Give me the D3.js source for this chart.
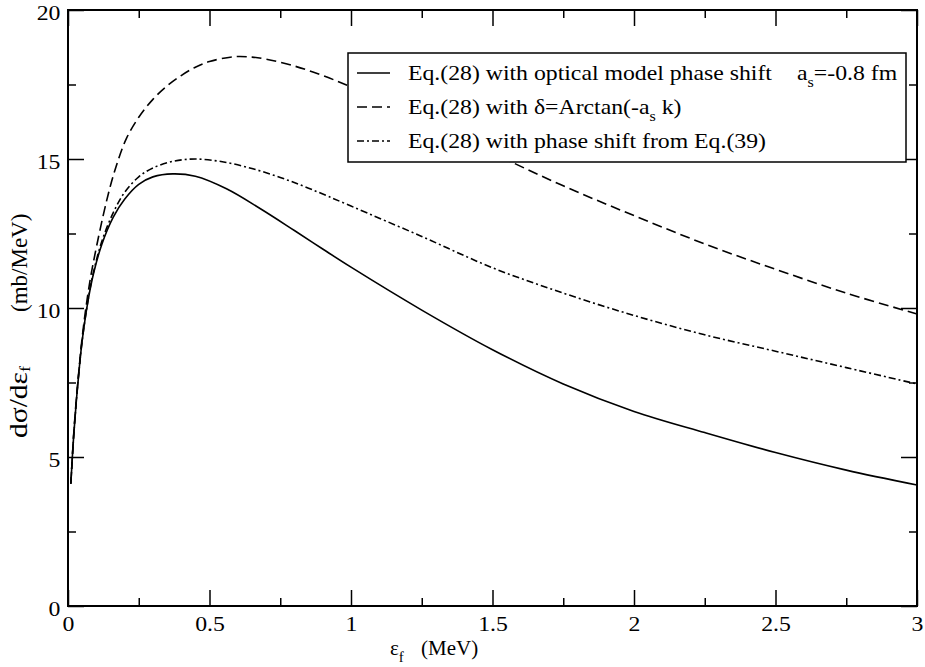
<!DOCTYPE html>
<html>
<head>
<meta charset="utf-8">
<script src="https://cdn.jsdelivr.net/npm/d3@7"></script>
<style>
  body { margin: 0; background: #fff; }
  svg { font-family: "Liberation Serif", "DejaVu Serif", serif; }
  .axis path { display: none; }
  .axis line { stroke: #000; stroke-width: 1.5; }
  .axis text { font-size: 22px; fill: #000; font-family: "Liberation Serif", serif; }
</style>
</head>
<body>
<svg width="925" height="667"></svg>
<script>
// energies (MeV) and cross sections (mb/MeV)
var opticalX = [0.01, 0.02, 0.03, 0.04, 0.05, 0.07, 0.09, 0.12, 0.16, 0.2, 0.25, 0.3, 0.37, 0.45, 0.56, 0.68, 0.8, 0.9, 1.0, 1.25, 1.5, 1.75, 2.0, 2.25, 2.5, 2.75, 3.0];
var opticalY = [4.1, 5.7, 6.95, 8.0, 8.9, 10.2, 11.15, 12.15, 13.05, 13.65, 14.15, 14.4, 14.5, 14.42, 14.0, 13.33, 12.6, 11.98, 11.37, 9.93, 8.6, 7.45, 6.53, 5.82, 5.15, 4.56, 4.06];

var arctanX = [0.01, 0.02, 0.03, 0.04, 0.05, 0.07, 0.09, 0.137, 0.17, 0.207, 0.25, 0.3, 0.35, 0.4, 0.45, 0.5, 0.584, 0.65, 0.7, 0.8, 0.9, 1.0, 1.25, 1.5, 1.75, 2.0, 2.25, 2.5, 2.75, 3.0];
var arctanY = [4.1, 5.75, 7.0, 8.05, 9.0, 10.45, 11.55, 13.62, 14.75, 15.7, 16.4, 17.0, 17.45, 17.8, 18.08, 18.27, 18.43, 18.42, 18.35, 18.12, 17.8, 17.42, 16.35, 15.2, 14.1, 13.1, 12.15, 11.3, 10.5, 9.8];

var eq39X = [0.01, 0.02, 0.03, 0.04, 0.05, 0.07, 0.09, 0.12, 0.16, 0.2, 0.25, 0.3, 0.37, 0.45, 0.55, 0.65, 0.75, 0.85, 1.0, 1.25, 1.5, 1.75, 2.0, 2.25, 2.5, 2.75, 3.0];
var eq39Y = [4.1, 5.7, 6.95, 8.0, 8.9, 10.22, 11.2, 12.25, 13.2, 13.88, 14.4, 14.7, 14.92, 15.0, 14.9, 14.68, 14.38, 14.02, 13.42, 12.4, 11.35, 10.5, 9.75, 9.1, 8.55, 8.0, 7.45];

var xMajor = [0, 0.5, 1, 1.5, 2, 2.5, 3];
var xMinor = [0.25, 0.75, 1.25, 1.75, 2.25, 2.75];
var yMajor = [0, 5, 10, 15, 20];
var yMinor = [2.5, 7.5, 12.5, 17.5];

(function () {
  var svg = d3.select("svg");
  var x0 = 68, x1 = 917, y0 = 10, y1 = 606;
  var stretch = "scale(1.08,1)";

  var x = d3.scaleLinear().domain([0, 3]).range([x0, x1]);
  var y = d3.scaleLinear().domain([0, 20]).range([y1, y0]);

  function fmt(d) { return d3.format("")(d); }

  // ticks on all four sides, pointing inwards
  svg.append("g").attr("class", "axis").attr("transform", "translate(0," + y1 + ")")
    .call(d3.axisBottom(x).tickValues(xMajor).tickSize(-16).tickPadding(9).tickFormat(fmt))
    .selectAll("text").attr("transform", stretch);
  svg.append("g").attr("class", "axis").attr("transform", "translate(0," + y1 + ")")
    .call(d3.axisBottom(x).tickValues(xMinor).tickSize(-8).tickFormat(""));
  svg.append("g").attr("class", "axis").attr("transform", "translate(0," + y0 + ")")
    .call(d3.axisTop(x).tickValues(xMajor).tickSize(-16).tickFormat(""));
  svg.append("g").attr("class", "axis").attr("transform", "translate(0," + y0 + ")")
    .call(d3.axisTop(x).tickValues(xMinor).tickSize(-8).tickFormat(""));

  svg.append("g").attr("class", "axis").attr("transform", "translate(" + x0 + ",0)")
    .call(d3.axisLeft(y).tickValues(yMajor).tickSize(-16).tickPadding(7).tickFormat(fmt))
    .selectAll("text").attr("transform", stretch).attr("dy", "0.42em");
  svg.append("g").attr("class", "axis").attr("transform", "translate(" + x0 + ",0)")
    .call(d3.axisLeft(y).tickValues(yMinor).tickSize(-8).tickFormat(""));
  svg.append("g").attr("class", "axis").attr("transform", "translate(" + x1 + ",0)")
    .call(d3.axisRight(y).tickValues(yMajor).tickSize(-16).tickFormat(""));
  svg.append("g").attr("class", "axis").attr("transform", "translate(" + x1 + ",0)")
    .call(d3.axisRight(y).tickValues(yMinor).tickSize(-8).tickFormat(""));

  svg.append("rect")
    .attr("x", x0).attr("y", y0)
    .attr("width", x1 - x0).attr("height", y1 - y0)
    .attr("fill", "none").attr("stroke", "#000").attr("stroke-width", 2);

  var series = [
    { xs: opticalX, ys: opticalY, dash: null },
    { xs: arctanX, ys: arctanY, dash: "10,5" },
    { xs: eq39X, ys: eq39Y, dash: "7,3,2,3" }
  ];

  var line = d3.line()
    .x(function (d) { return x(d[0]); })
    .y(function (d) { return y(d[1]); })
    .curve(d3.curveCatmullRom.alpha(0.5));

  series.forEach(function (s) {
    svg.append("path")
      .datum(d3.zip(s.xs, s.ys))
      .attr("d", line)
      .attr("fill", "none")
      .attr("stroke", "#000")
      .attr("stroke-width", 1.6)
      .attr("stroke-dasharray", s.dash);
  });

  // legend
  var legend = svg.append("g");
  legend.append("rect")
    .attr("x", 348).attr("y", 53).attr("width", 558).attr("height", 109)
    .attr("fill", "#fff").attr("stroke", "#000").attr("stroke-width", 1.5);

  var rowY = [73, 107, 141];
  series.forEach(function (s, i) {
    legend.append("line")
      .attr("x1", 357).attr("x2", 390)
      .attr("y1", rowY[i]).attr("y2", rowY[i])
      .attr("stroke", "#000").attr("stroke-width", 1.6)
      .attr("stroke-dasharray", s.dash);
  });

  // text placed through a translated, slightly widened group
  function label(parent, tx, ty, size, rot, sc) {
    return parent.append("g")
      .attr("transform", "translate(" + tx + "," + ty + ")" + (rot ? " rotate(" + rot + ")" : "") + " " + (sc || stretch))
      .append("text").attr("font-size", size).attr("fill", "#000");
  }
  function sub(t, main, s, rest, drop) {
    var d = drop || 7;
    t.append("tspan").text(main);
    t.append("tspan").attr("font-size", 15).attr("dy", d).text(s);
    if (rest) t.append("tspan").attr("dy", -d).text(rest);
  }

  label(legend, 408, rowY[0] + 7, 22).text("Eq.(28) with optical model phase shift");
  sub(label(legend, 797, rowY[0] + 7, 22), "a", "s", "=-0.8 fm");
  sub(label(legend, 408, rowY[1] + 7, 22), "Eq.(28) with \u03b4=Arctan(-a", "s", " k)");
  label(legend, 408, rowY[2] + 7, 22).text("Eq.(28) with phase shift from Eq.(39)");

  // axis titles
  sub(label(svg, 390, 655, 21, 0, "scale(1,1)"), "\u03b5", "f");
  label(svg, 421, 655, 21, 0, "scale(1,1)").text("(MeV)");

  sub(label(svg, 27, 438, 25, -90, "scale(1.18,1)"), "d\u03c3/d\u03b5", "f", null, 3);
  label(svg, 27, 312, 23, -90, "scale(1,1)").text("(mb/MeV)");
})();
</script>
</body>
</html>
